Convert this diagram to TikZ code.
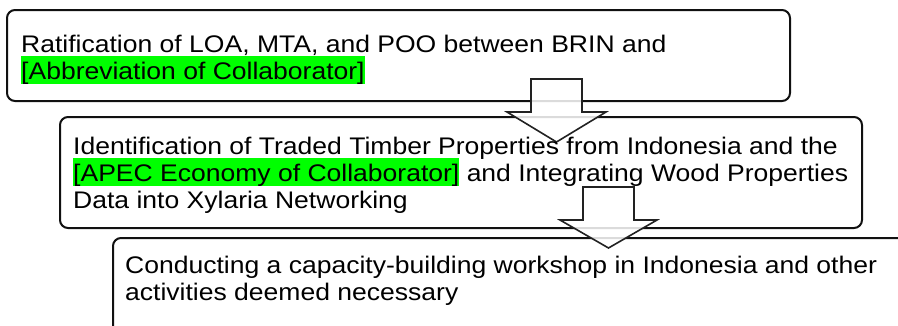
\documentclass[tikz,border=0pt]{standalone}
\usepackage{fontspec}
\setmainfont{Liberation Sans}[FakeStretch=1.105]
\usepackage{xcolor}
\definecolor{hlgreen}{HTML}{00FF00}
\definecolor{edgeclr}{HTML}{111111}
\definecolor{arrowclr}{HTML}{222222}
\newcommand\hlg[1]{\smash{\setlength{\fboxsep}{0pt}\colorbox{hlgreen}{\rule[-5pt]{0pt}{28pt}#1}}}
\begin{document}
\begin{tikzpicture}[x=1pt,y=-1pt,
  stage/.style={draw=edgeclr, line width=2pt, rounded corners=8pt, fill=white},
  blockarrow/.style={draw=arrowclr, line width=1.6pt, fill=white, fill opacity=0.85, line join=miter},
  steptext/.style={anchor=north west, inner sep=0pt, align=left, font=\fontsize{24}{27}\selectfont}]
\useasboundingbox (0,0) rectangle (898,325);
\begin{scope}
\clip (0,0) rectangle (898,325);
% boxes
\coordinate (b1a) at (7,10);   \coordinate (b1b) at (790,101);
\coordinate (b2a) at (60,117); \coordinate (b2b) at (862,228);
\coordinate (b3a) at (113,238);\coordinate (b3b) at (940,370);
\draw[stage] (b1a) rectangle (b1b);
\draw[stage] (b2a) rectangle (b2b);
\draw[stage] (b3a) rectangle (b3b);
% block arrows
\draw[blockarrow] (531,79) -- (582,79) -- (582,112) -- (606,112) -- (556.5,142)
  -- (507,112) -- (531,112) -- cycle;
\draw[blockarrow] (583,187) -- (634,187) -- (634,220) -- (657,220) -- (608.5,248)
  -- (560,220) -- (583,220) -- cycle;
% texts
\node[steptext] (t1) at (21,32) {\rule{0pt}{20pt}Ratification of LOA, MTA, and POO between BRIN and\\\hlg{[Abbreviation of Collaborator]}};
\node[steptext] (t2) at (73,134) {\rule{0pt}{20pt}Identification of Traded Timber Properties from Indonesia and the\\\hlg{[APEC Economy of Collaborator]} and Integrating Wood Properties\\Data into Xylaria Networking};
\node[steptext] (t3) at (125,253) {\rule{0pt}{20pt}Conducting a capacity-building workshop in Indonesia and other\\activities deemed necessary};
\end{scope}
\end{tikzpicture}
\end{document}
